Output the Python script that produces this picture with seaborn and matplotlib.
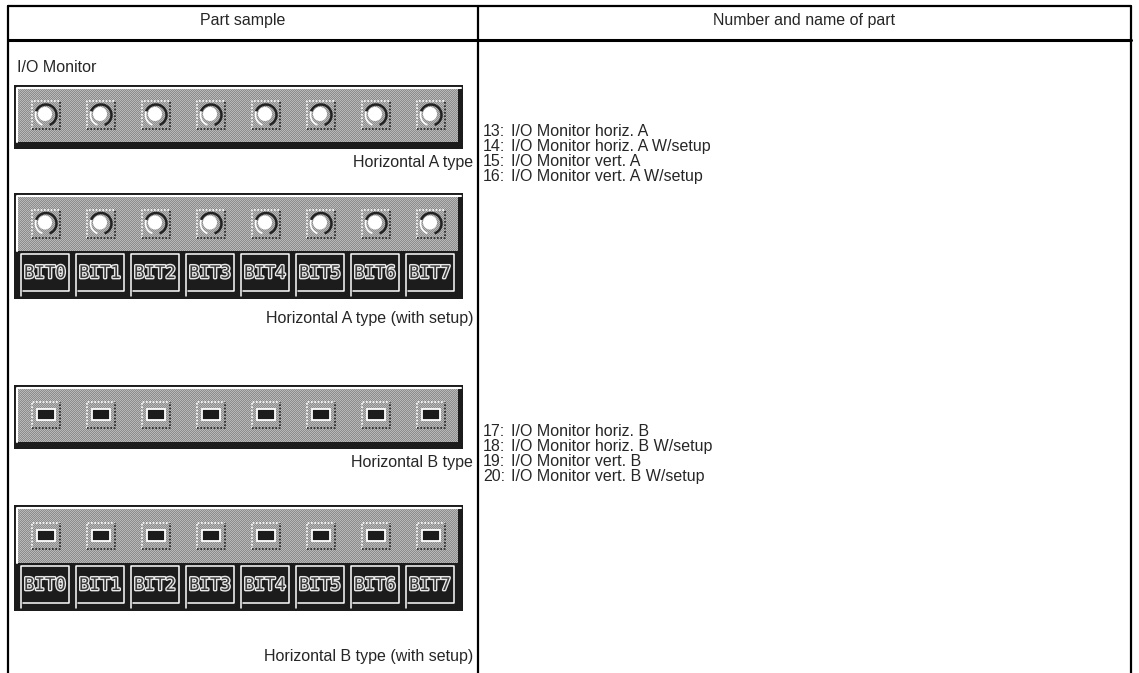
import numpy as np
import seaborn as sns
import matplotlib.pyplot as plt
from matplotlib.patches import Rectangle, Circle, Arc
import matplotlib.patheffects as pe

sns.set_theme(style="white")
plt.rcParams['font.family'] = ['Liberation Sans Narrow', 'Liberation Sans', 'DejaVu Sans']

# table content
headers = ["Part sample", "Number and name of part"]
group_title = "I/O Monitor"
captions = ["Horizontal A type", "Horizontal A type (with setup)",
            "Horizontal B type", "Horizontal B type (with setup)"]
part_numbers_a = [13, 14, 15, 16]
part_names_a = ["I/O Monitor horiz. A", "I/O Monitor horiz. A W/setup",
                "I/O Monitor vert. A", "I/O Monitor vert. A W/setup"]
part_numbers_b = [17, 18, 19, 20]
part_names_b = ["I/O Monitor horiz. B", "I/O Monitor horiz. B W/setup",
                "I/O Monitor vert. B", "I/O Monitor vert. B W/setup"]
bit_labels = ["BIT0", "BIT1", "BIT2", "BIT3", "BIT4", "BIT5", "BIT6", "BIT7"]

W, H = 1139, 673
fig = plt.figure(figsize=(W / 100, H / 100), dpi=100)
ax = fig.add_axes([0, 0, 1, 1])
ax.set_xlim(0, W)
ax.set_ylim(H, 0)
ax.axis("off")

DARK = "#1c1c1c"
FS = 11.5


def dither(x0, y0, w, h):
    # checker pattern like the old screen grab
    yy, xx = np.mgrid[0:h, 0:w]
    pat = np.where((xx + yy) % 2 == 0, 0.55, 0.72)
    ax.imshow(pat, cmap="gray", vmin=0, vmax=1, interpolation="nearest",
              extent=(x0, x0 + w, y0 + h, y0), zorder=0.8, aspect="auto")


# table lines
X_L, X_M, X_R = 8, 478, 1131
ax.plot([X_L, X_R], [6, 6], color="black", lw=1.6)
ax.plot([X_L, X_R], [40, 40], color="black", lw=2.2)
for xx in (X_L, X_M, X_R):
    ax.plot([xx, xx], [6, H], color="black", lw=1.6)
ax.text((X_L + X_M) / 2, 20, headers[0], ha="center", va="center", fontsize=FS)
ax.text((X_M + X_R) / 2, 20, headers[1], ha="center", va="center", fontsize=FS)
ax.text(17, 67, group_title, ha="left", va="center", fontsize=FS)

PX0, PX1 = 14, 463
LED_X = [PX0 + 32 + 55 * i for i in range(len(bit_labels))]


def led_frame(cx, cy, hw, hh):
    ax.plot([cx - hw, cx - hw, cx + hw], [cy + hh, cy - hh, cy - hh], color="white", lw=1.2, ls=(0, (1, 1)))
    ax.plot([cx - hw, cx + hw, cx + hw], [cy + hh, cy + hh, cy - hh], color="#222222", lw=1.2, ls=(0, (1, 1)))


def led_a(cx, cy):
    led_frame(cx, cy, 14, 14)
    ax.add_patch(Arc((cx, cy), 21, 21, theta1=-160, theta2=70, color="#222222", lw=1.8))
    ax.add_patch(Arc((cx, cy), 21, 21, theta1=110, theta2=200, color="white", lw=1.2))
    ax.add_patch(Circle((cx - 1, cy - 1), 7, fc="white", ec="none"))


def led_b(cx, cy):
    led_frame(cx, cy, 14, 13)
    ax.add_patch(Rectangle((cx - 9, cy - 6), 18, 11, fc=DARK, ec="white", lw=1.3))


def panel(y0, gray_h, led, setup):
    total = gray_h + (48 if setup else 7) + 3
    ax.add_patch(Rectangle((PX0, y0), PX1 - PX0, total, fc=DARK, ec="none", zorder=0.5))
    dither(PX0 + 3, y0 + 3, PX1 - PX0 - 8, gray_h)
    ax.plot([PX0 + 3, PX0 + 3, PX1 - 2], [y0 + 3 + gray_h, y0 + 3, y0 + 3], color="white", lw=1.5)
    cy = y0 + 3 + gray_h / 2
    for cx in LED_X:
        led(cx, cy)
    if setup:
        by = y0 + 3 + gray_h + 2
        for cx, lab in zip(LED_X, bit_labels):
            ax.plot([cx - 25, cx - 25, cx + 23, cx + 23, cx - 23],
                    [by + 43, by + 1, by + 1, by + 38, by + 38], color="white", lw=1.1)
            ax.text(cx - 1, by + 20, lab, ha="center", va="center", fontsize=12.5,
                    family="DejaVu Sans Mono", color="#3a3a3a",
                    path_effects=[pe.withStroke(linewidth=2.0, foreground="#e8e8e8")])


panel(85, 54, led_a, False)
panel(193, 55, led_a, True)
panel(385, 54, led_b, False)
panel(505, 55, led_b, True)

caption_y = [162, 318, 462, 657]
for y, cap in zip(caption_y, captions):
    ax.text(473, y, cap, ha="right", va="center", fontsize=FS)


def part_rows(y0, nums, names):
    for i, (n, name) in enumerate(zip(nums, names)):
        y = y0 + 15.3 * i
        ax.text(483, y, f"{n}:", ha="left", va="center", fontsize=FS)
        ax.text(511, y, name, ha="left", va="center", fontsize=FS)


part_rows(131, part_numbers_a, part_names_a)
part_rows(431, part_numbers_b, part_names_b)

fig.savefig("out.png", dpi=100)
